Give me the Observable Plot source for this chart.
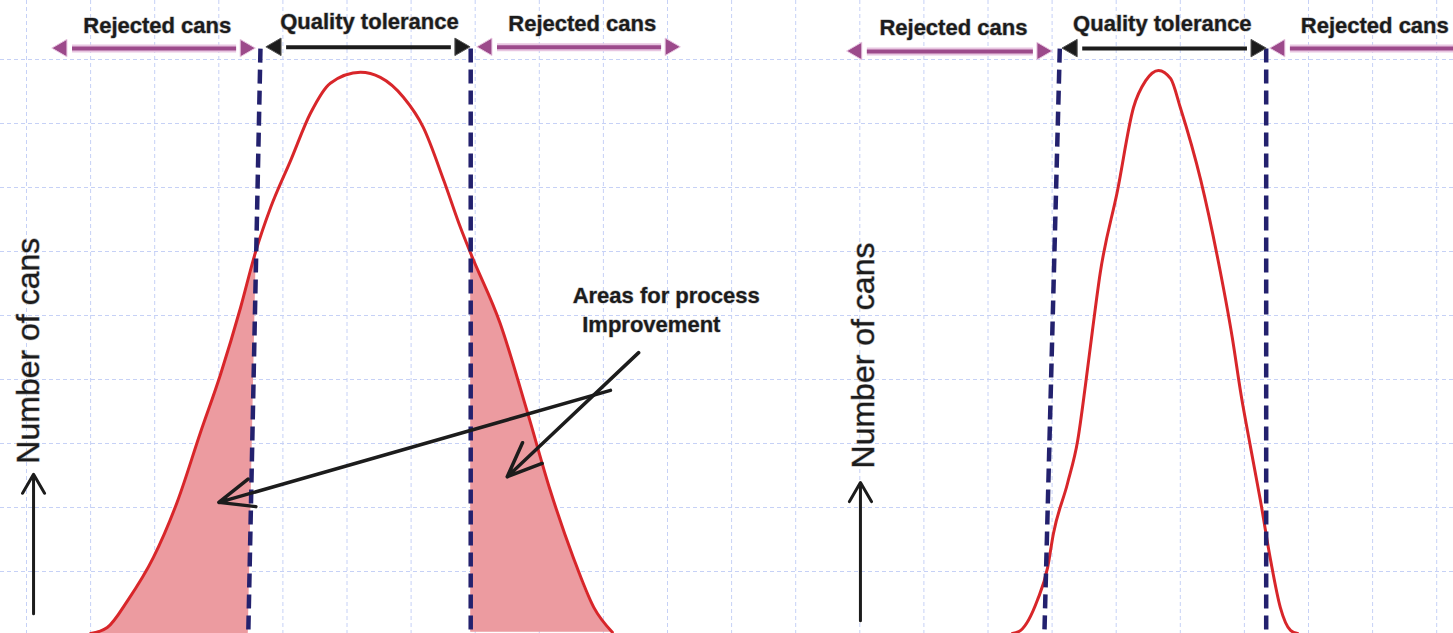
<!DOCTYPE html>
<html><head><meta charset="utf-8">
<script src="https://cdn.jsdelivr.net/npm/d3@7"></script>
<script src="https://cdn.jsdelivr.net/npm/@observablehq/plot@0.6"></script>
<style>html,body{margin:0;padding:0;background:#fff;overflow:hidden} #chart svg{display:block}</style>
</head><body><div id="chart"></div>
<script>
// All values in grid units (one unit = one grid square)
const gridXTicks = d3.range(0, 23);
const gridYTicks = d3.range(1, 10);

// Wide distribution (left panel)
const wideX = [1.00,1.26,1.58,1.98,2.36,2.71,3.03,3.34,3.57,3.81,4.12,4.43,4.74,5.21,5.52,5.88,6.19,6.51,6.77,6.93,7.39,7.82,8.17,8.53,8.85,9.14];
const wideY = [0.03,0.125,0.55,1.22,2.11,3.16,4.09,5.125,5.98,6.69,7.42,8.16,8.63,8.80,8.72,8.41,7.94,7.11,6.375,5.97,4.875,3.47,2.27,1.22,0.44,0.05];

// Narrow distribution (right panel)
const narrowX = [15.38,15.51,15.77,15.93,16.02,16.24,16.40,16.52,16.63,16.75,17.02,17.27,17.46,17.66,17.85,18.00,18.32,18.58,18.81,18.95,19.10,19.25,19.41,19.56,19.72,19.83];
const narrowY = [0.03,0.08,0.55,1.06,1.59,2.375,3.05,3.91,4.77,5.66,6.95,8.25,8.67,8.83,8.70,8.25,7.11,5.91,4.66,3.75,2.92,2.11,1.17,0.44,0.08,0.03];

// Tolerance limits (dashed lines): x at top, x at bottom
const limitXTop    = [3.65, 6.93, 16.12, 19.34];
const limitXBottom = [3.46, 6.93, 15.88, 19.34];
const limitYTop = 9.17;
const baseY = 0.03;

// Top range arrows and their labels
const bandLabel = ["Rejected cans","Quality tolerance","Rejected cans","Rejected cans","Quality tolerance","Rejected cans"];
const bandKind  = ["reject","ok","reject","reject","ok","reject"];
const bandX1 = [0.56, 3.90, 7.19, 12.96, 16.32, 19.56];
const bandX2 = [3.42, 6.77, 10.05, 15.85, 19.19, 22.80];
const bandY  = [9.17, 9.19, 9.19, 9.125, 9.17, 9.17];
const labelX = [2.04, 5.35, 8.67, 14.46, 17.72, 19.88];
const labelY = [9.53, 9.59, 9.56, 9.50, 9.55, 9.53];
const labelAtEdge = [false, false, false, false, false, true]; // last one starts at its x and runs off the edge

// Vertical axis labels with upward arrows
const axisLabel = ["Number of cans", "Number of cans"];
const axisLabelX = [0.03, 13.06];
const axisLabelY = [4.45, 4.375];
const axisArrowX = [0.11, 13.01];
const axisArrowY1 = [0.34, 0.23];
const axisArrowY2 = [2.52, 2.39];

// Annotation
const noteLines = ["Areas for process", "Improvement"];
const noteX = [8.52, 8.67];
const noteY = [5.30, 4.86];
const pointerX1 = [9.11, 9.55];
const pointerY1 = [3.83, 4.42];
const pointerX2 = [3.00, 7.50];
const pointerY2 = [2.08, 2.48];

// ---- build tables ----
const wide = wideX.map((x, i) => ({x, y: wideY[i]}));
const narrow = narrowX.map((x, i) => ({x, y: narrowY[i]}));
const limitAt = (k, y) => limitXBottom[k] + (limitXTop[k] - limitXBottom[k]) * (y - baseY) / (limitYTop - baseY);
const leftTail = wide.filter(d => d.x <= limitAt(0, d.y) + 0.02);
const rightTail = wide.filter(d => d.x >= limitXTop[1] - 0.01);
const limits = limitXTop.map((xt, k) => ({x1: xt, x2: limitXBottom[k], y1: limitYTop, y2: baseY}));
const bands = bandLabel.map((label, i) => ({label, kind: bandKind[i], x1: bandX1[i], x2: bandX2[i], y: bandY[i], lx: labelX[i], ly: labelY[i], edge: labelAtEdge[i]}));
const heads = bands.flatMap(b => [{x: b.x1, y: b.y, kind: b.kind, rot: -90, dx: 6}, {x: b.x2, y: b.y, kind: b.kind, rot: 90, dx: -6}]);
const axes = axisLabel.map((t, i) => ({t, x: axisLabelX[i], y: axisLabelY[i], ax: axisArrowX[i], ay1: axisArrowY1[i], ay2: axisArrowY2[i]}));
const notes = noteLines.map((t, i) => ({t, x: noteX[i], y: noteY[i]}));
const pointers = pointerX1.map((x1, i) => ({x1, y1: pointerY1[i], x2: pointerX2[i], y2: pointerY2[i]}));

const font = "Liberation Sans, Arial, Helvetica, sans-serif";
const magenta = "#9c4a8b", magentaGlow = "#e8c6e1", ink = "#1c1c1c";
const headerStyle = {x: "lx", y: "ly", text: "label", fontSize: 22, fontWeight: "bold", fontFamily: font, fill: ink, stroke: "#b5b5b5", strokeWidth: 1.2};

const chart = Plot.plot({
  width: 1453, height: 633, margin: 0,
  x: {domain: [-26/64.1, 1427/64.1], axis: null},
  y: {domain: [2/64, 635/64], axis: null},
  style: {background: "#fff"},
  marks: [
    Plot.gridX(gridXTicks, {stroke: "#c6d1f6", strokeOpacity: 1, strokeWidth: 1, strokeDasharray: "4,3"}),
    Plot.gridY(gridYTicks, {stroke: "#c6d1f6", strokeOpacity: 1, strokeWidth: 1, strokeDasharray: "4,3"}),
    // shaded reject areas
    Plot.areaX(leftTail, {y: "y", x1: "x", x2: d => limitAt(0, d.y), fill: "#ec9ba0", curve: "monotone-y"}),
    Plot.areaX(rightTail, {y: "y", x1: () => limitXTop[1], x2: "x", fill: "#ec9ba0", curve: "monotone-y"}),
    // curves
    Plot.line(wide, {x: "x", y: "y", stroke: "#d8262a", strokeWidth: 3, curve: "monotone-x"}),
    Plot.line(narrow, {x: "x", y: "y", stroke: "#d8262a", strokeWidth: 3, curve: "monotone-x"}),
    // tolerance limits
    Plot.link(limits, {x1: "x1", y1: "y1", x2: "x2", y2: "y2", stroke: "#23216e", strokeWidth: 4.5, strokeDasharray: "14,7", strokeLinecap: "butt"}),
    // range arrows
    Plot.link(bands.filter(b => b.kind === "reject"), {x1: d => d.x1 + 0.15, x2: d => d.x2 - 0.15, y1: "y", y2: "y", stroke: magentaGlow, strokeWidth: 8}),
    Plot.link(bands, {x1: d => d.x1 + 0.15, x2: d => d.x2 - 0.15, y1: "y", y2: "y", stroke: d => d.kind === "reject" ? magenta : ink, strokeWidth: 4}),
    Plot.dot(heads, {x: "x", y: "y", dx: "dx", symbol: "triangle", r: 6.5, rotate: "rot", fill: d => d.kind === "reject" ? magenta : ink, stroke: d => d.kind === "reject" ? magentaGlow : "#555", strokeWidth: 1}),
    Plot.text(bands.filter(b => !b.edge), {...headerStyle, textAnchor: "middle"}),
    Plot.text(bands.filter(b => b.edge), {...headerStyle, textAnchor: "start"}),
    // axis labels + up arrows
    Plot.text(axes, {x: "x", y: "y", text: "t", rotate: -90, fontSize: 32, fontFamily: font, fill: ink, stroke: "#b5b5b5", strokeWidth: 1.2}),
    Plot.arrow(axes, {x1: "ax", x2: "ax", y1: "ay1", y2: "ay2", stroke: ink, strokeWidth: 3, headLength: 11, headAngle: 60}),
    // annotation
    Plot.text(notes, {x: "x", y: "y", text: "t", textAnchor: "start", fontSize: 22, fontWeight: "bold", fontFamily: font, fill: ink, stroke: "#b5b5b5", strokeWidth: 1}),
    Plot.arrow(pointers, {x1: "x1", y1: "y1", x2: "x2", y2: "y2", stroke: ink, strokeWidth: 3.5, headLength: 16, headAngle: 45})
  ]
});
document.getElementById("chart").appendChild(chart);
</script>
</body></html>
